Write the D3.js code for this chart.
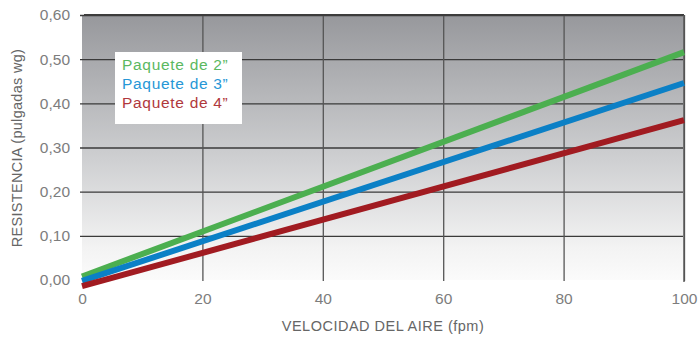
<!DOCTYPE html>
<html>
<head>
<meta charset="utf-8">
<script src="https://cdn.jsdelivr.net/npm/d3@7"></script>
<style>
  html, body { margin: 0; padding: 0; background: #ffffff; }
  svg { display: block; font-family: "Liberation Sans", Arial, Helvetica, sans-serif; }
</style>
</head>
<body>
<svg id="chart" width="699" height="337"></svg>
<script>
// Air velocity (fpm) at the ends of each straight resistance line
const velocity = [0, 100];
// Resistance (inches wg) for each filter pack depth
const pack2 = [0.008, 0.516];
const pack3 = [-0.002, 0.446];
const pack4 = [-0.014, 0.362];

const seriesNames = ["Paquete de 2\u201D", "Paquete de 3\u201D", "Paquete de 4\u201D"];
const seriesValues = [pack2, pack3, pack4];
const lineColors = ["#4caf50", "#0b80c6", "#a11b21"];
const labelColors = ["#5bb85f", "#2797d6", "#b0383c"];

const xTicks = [0, 20, 40, 60, 80, 100];
const yTicks = [0, 0.1, 0.2, 0.3, 0.4, 0.5, 0.6];
const xTitle = "VELOCIDAD DEL AIRE (fpm)";
const yTitle = "RESISTENCIA (pulgadas wg)";

const svg = d3.select("#chart");
const x = d3.scaleLinear().domain([0, 100]).range([82, 684]);
const y = d3.scaleLinear().domain([0, 0.6]).range([280, 15]);

// Plot background: grey fading to near white toward the bottom
const defs = svg.append("defs");
const grad = defs.append("linearGradient")
  .attr("id", "bg").attr("x1", 0).attr("y1", 0).attr("x2", 0).attr("y2", 1);
grad.append("stop").attr("offset", "0%").attr("stop-color", "#97989c");
grad.append("stop").attr("offset", "55%").attr("stop-color", "#cfd0d2");
grad.append("stop").attr("offset", "88%").attr("stop-color", "#f3f3f3");
grad.append("stop").attr("offset", "100%").attr("stop-color", "#fbfbfb");

svg.append("rect")
  .attr("x", x(0)).attr("y", y(0.6))
  .attr("width", x(100) - x(0)).attr("height", y(0) - y(0.6))
  .attr("fill", "url(#bg)");

const fmt = v => d3.format(".2f")(v).replace(".", ",");

// Y axis: labels plus grid lines running across the plot
const yAxis = d3.axisLeft(y).tickValues(yTicks).tickFormat(fmt)
  .tickSize(-(x(100) - x(0) + 1)).tickPadding(10);
const gy = svg.append("g").attr("transform", `translate(${x(0) - 2},0)`).call(yAxis);
gy.select(".domain").remove();
gy.selectAll(".tick line")
  .attr("stroke", "#3a3a3a").attr("stroke-width", 1.3)
  .attr("stroke-opacity", d => d === 0 ? 0 : 1);
gy.selectAll(".tick text")
  .attr("fill", "#7d7d7d").style("font-size", "15.5px");

// X axis: vertical grid lines and labels underneath
const xAxis = d3.axisBottom(x).tickValues(xTicks).tickFormat(d3.format("d"))
  .tickSize(-(y(0) - y(0.6)) - 1).tickPadding(12);
const gx = svg.append("g").attr("transform", `translate(0,${y(0) + 1})`).call(xAxis);
gx.select(".domain").remove();
gx.selectAll(".tick line")
  .attr("stroke", "#555555").attr("stroke-width", 1.3)
  .attr("stroke-opacity", d => d === 0 ? 0 : 1);
gx.selectAll(".tick text")
  .attr("fill", "#7d7d7d").style("font-size", "15.5px");

// Darker frame edges at top and right
svg.append("line")
  .attr("x1", x(0) + 2).attr("x2", x(100)).attr("y1", y(0.6)).attr("y2", y(0.6))
  .attr("stroke", "#3c3c3c").attr("stroke-width", 2);
svg.append("line")
  .attr("x1", x(100)).attr("x2", x(100)).attr("y1", y(0.6)).attr("y2", y(0) + 2)
  .attr("stroke", "#555555").attr("stroke-width", 1.4);

// Resistance lines
const line = d3.line().x((d, i) => x(velocity[i])).y(d => y(d));
seriesValues.forEach((vals, i) => {
  svg.append("path")
    .datum(vals)
    .attr("d", line)
    .attr("fill", "none")
    .attr("stroke", lineColors[i])
    .attr("stroke-width", 6);
});

// Legend box
const legend = svg.append("g").attr("transform", "translate(115,52)");
legend.append("rect").attr("width", 127).attr("height", 72).attr("fill", "#ffffff");
seriesNames.forEach((name, i) => {
  legend.append("text")
    .attr("x", 7).attr("y", 18 + i * 19)
    .attr("fill", labelColors[i])
    .style("font-size", "15.5px")
    .style("letter-spacing", "0.7px")
    .text(name);
});

// Axis titles
svg.append("text")
  .attr("x", 383).attr("y", 331)
  .attr("text-anchor", "middle")
  .attr("fill", "#666666")
  .style("font-size", "14.5px")
  .style("letter-spacing", "0.5px")
  .text(xTitle);
svg.append("text")
  .attr("transform", "translate(22,148) rotate(-90)")
  .attr("text-anchor", "middle")
  .attr("fill", "#666666")
  .style("font-size", "14.5px")
  .style("letter-spacing", "0.3px")
  .text(yTitle);
</script>
</body>
</html>
